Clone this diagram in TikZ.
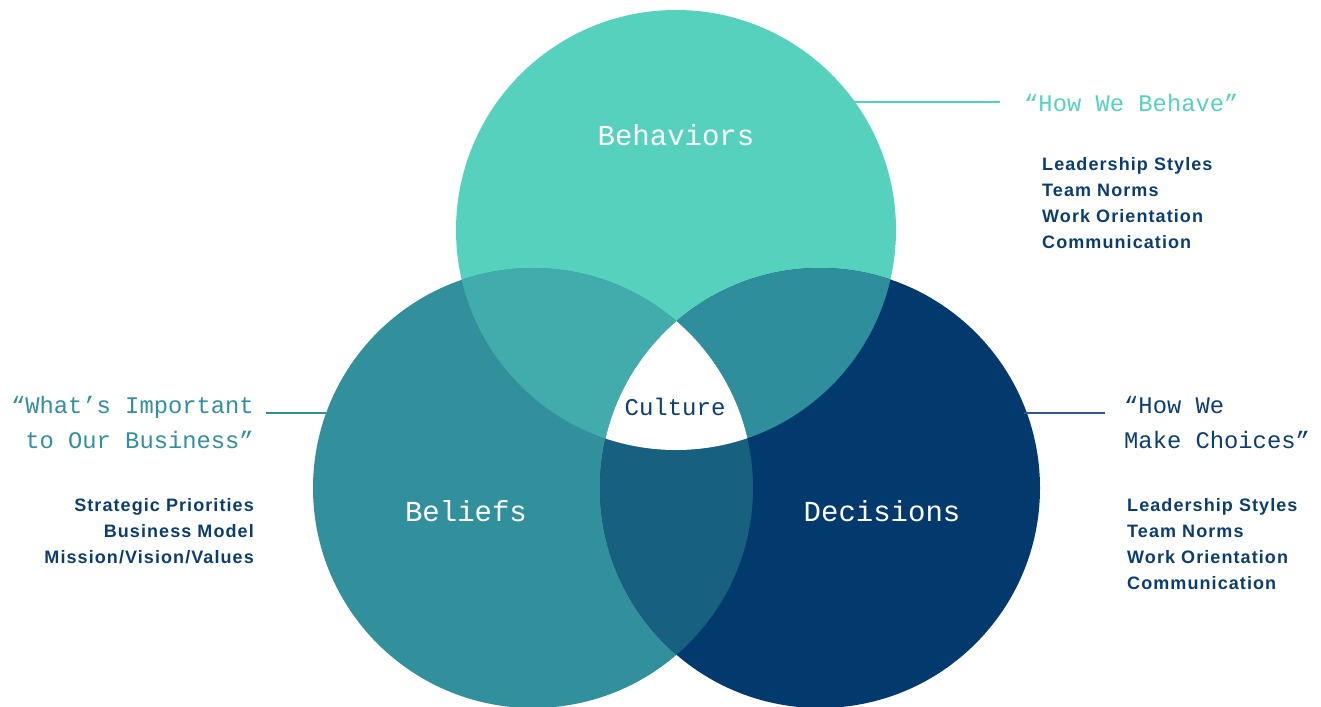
\documentclass[tikz,border=0pt]{standalone}
\usepackage{fontspec}
\setmainfont{Liberation Sans}
\newfontfamily\monof{Liberation Mono}
\newfontfamily\listf[LetterSpace=6]{Liberation Sans}
\definecolor{cBeh}{HTML}{55D1BE}
\definecolor{cBel}{HTML}{31909C}
\definecolor{cDec}{HTML}{033A6E}
\definecolor{cBehBel}{HTML}{41ACAB}
\definecolor{cBehDec}{HTML}{2F8E9B}
\definecolor{cBelDec}{HTML}{17607F}
\definecolor{cNavy}{HTML}{0B3D70}
\tikzset{
  venn/.style={circle, minimum size=440pt, inner sep=0pt, draw=none},
  bigtxt/.style={inner sep=0pt, anchor=base, text=white, font=\monof\fontsize{29}{32}\selectfont},
  quote/.style={inner sep=0pt, font=\monof\fontsize{23.8}{35}\selectfont},
  listtxt/.style={inner sep=0pt, text=cNavy, font=\listf\bfseries\fontsize{18}{26}\selectfont},
  leader/.style={line width=1.2pt}
}
\begin{document}
\begin{tikzpicture}[x=1pt,y=-1pt]
\useasboundingbox (0,0) rectangle (1321,706);
% circles
\node[venn, fill=cBeh] (beh) at (676,230) {};
\node[venn, fill=cBel] (bel) at (533,488) {};
\node[venn, fill=cDec] (dec) at (820,488) {};
% overlaps
\begin{scope}
  \clip (676,230) circle (220pt);
  \fill[cBehBel] (533,488) circle (220pt);
\end{scope}
\begin{scope}
  \clip (676,230) circle (220pt);
  \fill[cBehDec] (820,488) circle (220pt);
\end{scope}
\begin{scope}
  \clip (533,488) circle (220pt);
  \fill[cBelDec] (820,488) circle (220pt);
\end{scope}
\begin{scope}
  \clip (676,230) circle (220pt);
  \clip (533,488) circle (220pt);
  \fill[white] (820,488) circle (220pt);
\end{scope}
% labels in circles
\node[bigtxt] (tbeh) at (676,145) {Behaviors};
\node[bigtxt] (tbel) at (466,521) {Beliefs};
\node[bigtxt] (tdec) at (882,521) {Decisions};
\node[inner sep=0pt, anchor=base, text=cNavy, font=\monof\fontsize{24}{28}\selectfont] (cult) at (675,415) {Culture};
% leader lines
\coordinate (lb1) at (853,102);
\coordinate (lb2) at (1000,102);
\draw[leader, cBeh] (lb1) -- (lb2);
\coordinate (ll1) at (266,413);
\coordinate (ll2) at (326,413);
\draw[leader, cBel] (ll1) -- (ll2);
\coordinate (lr1) at (1024,413);
\coordinate (lr2) at (1105,413);
\draw[leader, cNavy!85] (lr1) -- (lr2);
% quotes (base anchor = last line's baseline)
\node[quote, text=cBeh, anchor=base west] (qbeh) at (1024,111) {“How We Behave”};
\node[quote, text=cBel, anchor=base east, align=right] (qbel) at (254,448) {“What’s Important\\to Our Business”};
\node[quote, text=cNavy, anchor=base west, align=left] (qdec) at (1124,448) {“How We\\Make Choices”};
% lists
\node[listtxt, anchor=base west, align=left] (lbeh) at (1042,248) {Leadership Styles\\Team Norms\\Work Orientation\\Communication};
\node[listtxt, anchor=base east, align=right] (lbel) at (254,563) {Strategic Priorities\\Business Model\\Mission/Vision/Values};
\node[listtxt, anchor=base west, align=left] (ldec) at (1127,589) {Leadership Styles\\Team Norms\\Work Orientation\\Communication};
\end{tikzpicture}
\end{document}
